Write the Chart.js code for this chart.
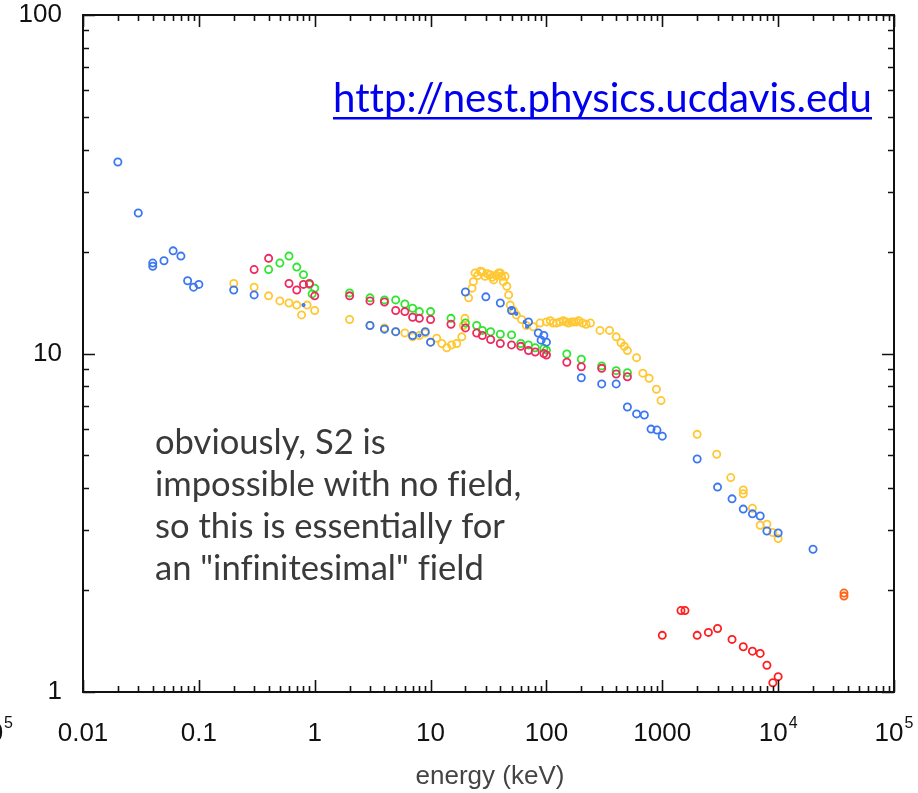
<!DOCTYPE html>
<html>
<head>
<meta charset="utf-8">
<script src="https://cdn.jsdelivr.net/npm/chart.js@4.4.0/dist/chart.umd.min.js"></script>
<style>
  html, body { margin: 0; padding: 0; background: #fff; }
  canvas { display: block; }
</style>
</head>
<body>
<canvas id="yield" width="918" height="793"></canvas>
<script>
/* S2 yield vs. recoil energy, log-log, one marker colour per data set */

// axis ticks
const xDecades = [0.01, 0.1, 1, 10, 100, 1000, 1e4, 1e5];
const xTickLabels = ['0.01', '0.1', '1', '10', '100', '1000', '10^4', '10^5'];
const yDecades = [1, 10, 100];
const yTickLabels = ['1', '10', '100'];

// blue set
const blueEnergy = [0.02, 0.03, 0.04, 0.04, 0.05, 0.06, 0.07, 0.08, 0.09, 0.1, 0.2, 0.3,
  3, 4, 5, 7, 9, 10, 20, 30, 40, 50, 70, 85, 90, 95, 100,
  200, 300, 400, 500, 600, 700, 800, 900, 1000, 2000, 3000, 4000, 5000, 6000, 7000, 8000, 10000, 20000];
const blueYield = [36.8, 26.0, 18.5, 18.1, 18.8, 20.1, 19.4, 16.4, 15.7, 16.0, 15.4, 14.9,
  12.1, 11.8, 11.6, 11.3, 11.6, 10.8, 15.2, 14.7, 14.1, 13.4, 12.4, 11.5, 10.95, 11.3, 10.8,
  8.48, 8.13, 8.13, 6.95, 6.63, 6.58, 5.98, 5.94, 5.70, 4.88, 4.03, 3.72, 3.47, 3.36, 3.31, 2.99, 2.95, 2.64];

// small blue dots
const dotEnergy = [0.8, 8, 50, 55, 65, 68];
const dotYield = [13.9, 11.3, 13.6, 13.1, 12.4, 12.0];

// crimson set
const crimsonEnergy = [0.3, 0.4, 0.6, 0.7, 0.8, 0.9, 1, 2, 3, 4, 5, 6, 7, 8, 10, 15, 20, 25, 28, 33, 40, 50,
  60, 70, 80, 95, 100, 150, 200, 300, 400, 500];
const crimsonYield = [17.7, 19.1, 16.1, 15.4, 16.0, 16.1, 14.8, 14.8, 14.3, 14.2, 13.4, 13.3, 12.8, 12.7, 12.6,
  12.2, 11.9, 11.5, 11.3, 11.0, 10.7, 10.6, 10.5, 10.2, 10.1, 10.0, 9.9, 9.42, 9.14, 9.04, 8.7, 8.54];

// green set
const greenEnergy = [0.4, 0.5, 0.6, 0.7, 0.8, 0.9, 0.95, 1, 2, 3, 4, 5, 6, 7, 8, 10, 15, 20, 25, 28, 33, 40, 50,
  60, 70, 80, 95, 100, 150, 200, 300, 400, 500];
const greenYield = [17.7, 18.5, 19.4, 18.0, 17.1, 16.0, 15.0, 15.6, 15.1, 14.6, 14.4, 14.4, 14.0, 13.6, 13.3, 13.3,
  12.7, 12.3, 12.1, 11.7, 11.6, 11.4, 11.35, 10.7, 10.6, 10.4, 10.35, 10.23, 9.97, 9.62, 9.19, 8.9, 8.78];

// gold set
const goldEnergy = [0.2, 0.3, 0.4, 0.5, 0.6, 0.7, 0.77, 0.86, 1, 2, 3, 4, 5, 6, 7, 8, 9, 10, 11.3, 12.5, 13.8,
  15.2, 16.8, 18.6, 19.2, 19.8, 21.3, 22.8, 23.4, 24.2, 25.5, 26.9, 28, 29.5, 31, 32.8, 34, 35, 37, 38.6, 40, 41,
  42.5, 44, 45.5, 47.2, 48.7, 51.9, 55, 61, 67, 77, 88, 100, 108, 114, 122, 131, 140, 147, 155, 165, 172, 181,
  190, 205, 220, 240, 290, 350, 400, 440, 470, 500, 600, 680, 770, 890, 975,
  2000, 2950, 3900, 5000, 5000, 6000, 7000, 8000, 9000, 10000];
const goldYield = [16.1, 15.7, 14.8, 14.3, 14.1, 13.9, 13.0, 13.9, 13.4, 12.6, 12.1, 11.9, 11.6, 11.5, 11.2, 11.3,
  11.5, 10.8, 11.1, 10.7, 10.4, 10.6, 10.7, 11.2, 12.1, 12.7, 14.6, 15.6, 16.3, 17.3, 17.0, 17.5, 17.4, 16.9,
  17.2, 17.1, 16.8, 16.5, 17.0, 17.3, 17.3, 16.9, 16.3, 16.9, 15.8, 14.9, 13.9, 13.4, 13.0, 12.6, 12.1, 12.0,
  12.3, 12.4, 12.5, 12.3, 12.3, 12.4, 12.5, 12.4, 12.3, 12.4, 12.4, 12.4, 12.5, 12.3, 12.2, 12.3, 11.7, 11.7,
  11.2, 10.76, 10.5, 10.2, 9.72, 8.75, 8.45, 7.84, 7.26,
  5.77, 5.04, 4.30, 3.95, 3.85, 3.49, 3.11, 3.13, 2.96, 2.84];

// red set (high energy)
const redEnergy = [1000, 1450, 1570, 2000, 2500, 3000, 4000, 5000, 6000, 7000, 8000, 9000, 10000];
const redYield = [1.47, 1.74, 1.74, 1.47, 1.50, 1.54, 1.43, 1.36, 1.32, 1.30, 1.20, 1.065, 1.11];

// orange pair
const orangeEnergy = [37000, 37000];
const orangeYield = [1.96, 1.92];

const pairs = (xs, ys) => xs.map((x, i) => ({ x, y: ys[i] }));

function ringSet(label, xs, ys, color, radius = 3.6) {
  return {
    label,
    data: pairs(xs, ys),
    borderColor: color,
    backgroundColor: 'rgba(0,0,0,0)',
    pointRadius: radius,
    pointHoverRadius: radius,
    pointBorderWidth: 1.8,
    showLine: false
  };
}

const tickFont = '26px "Liberation Sans", Arial, sans-serif';
const supFont = '16px "Liberation Sans", Arial, sans-serif';

// text helpers
function fitFont(ctx, text, family, width) {
  ctx.font = `100px ${family}`;
  const size = 100 * width / ctx.measureText(text).width;
  return `${size.toFixed(2)}px ${family}`;
}

// a zero-width non-joiner after f / t stops the font from forming fi / tt ligatures
const noLigatures = s => s.replace(/f(?=i)|t(?=t)/g, '$&\u200C');

function drawPowerLabel(ctx, label, x, y, align) {
  const [base, exp] = label.split('^');
  ctx.font = tickFont;
  const wb = ctx.measureText(base).width;
  ctx.font = supFont;
  const we = exp ? ctx.measureText(exp).width + 1 : 0;
  let x0 = x - (wb + we) / 2;
  if (align === 'right') x0 = x - wb - we;
  ctx.textAlign = 'left';
  ctx.textBaseline = 'middle';
  ctx.font = tickFont;
  ctx.fillText(base, x0, y);
  if (exp) {
    ctx.font = supFont;
    ctx.fillText(exp, x0 + wb + 1, y - 10);
  }
}

const frame = {
  id: 'frame',
  beforeDraw(chart) {
    const { ctx } = chart;
    ctx.save();
    ctx.fillStyle = '#fff';
    ctx.fillRect(0, 0, chart.width, chart.height);
    ctx.restore();
  },
  afterDatasetsDraw(chart) {
    const { ctx, chartArea: a, scales: { x, y } } = chart;
    ctx.save();
    ctx.strokeStyle = '#111';
    ctx.lineWidth = 1.6;
    ctx.beginPath();
    // x ticks, bottom and top, pointing in
    for (let i = 0; i < xDecades.length; i++) {
      const d = xDecades[i];
      const steps = i === xDecades.length - 1 ? 1 : 9;
      for (let m = 1; m <= steps; m++) {
        const px = Math.round(x.getPixelForValue(d * m)) + 0.5;
        const len = m === 1 ? 12 : 6;
        ctx.moveTo(px, a.bottom); ctx.lineTo(px, a.bottom - len);
        ctx.moveTo(px, a.top); ctx.lineTo(px, a.top + len);
      }
    }
    // y ticks, left and right
    for (let i = 0; i < yDecades.length; i++) {
      const d = yDecades[i];
      const steps = i === yDecades.length - 1 ? 1 : 9;
      for (let m = 1; m <= steps; m++) {
        const py = Math.round(y.getPixelForValue(d * m)) + 0.5;
        const len = m === 1 ? 12 : 6;
        ctx.moveTo(a.left, py); ctx.lineTo(a.left + len, py);
        ctx.moveTo(a.right, py); ctx.lineTo(a.right - len, py);
      }
    }
    ctx.stroke();

    ctx.lineWidth = 2;
    ctx.strokeRect(a.left, a.top, a.right - a.left, a.bottom - a.top);

    // tick labels
    ctx.fillStyle = '#111';
    xDecades.forEach((d, i) => drawPowerLabel(ctx, xTickLabels[i], x.getPixelForValue(d), 734));
    // clipped exponent label from the neighbouring panel at the far left
    drawPowerLabel(ctx, '10^5', 13, 734, 'right');
    yDecades.forEach((d, i) => drawPowerLabel(ctx, yTickLabels[i], 62, y.getPixelForValue(d), 'right'));

    // axis title
    ctx.fillStyle = '#444';
    ctx.font = '26px "Liberation Sans", Arial, sans-serif';
    ctx.textAlign = 'center';
    ctx.textBaseline = 'middle';
    ctx.fillText('energy (keV)', 490, 777);

    // note
    const note = ['obviously, S2 is', 'impossible with no field,', 'so this is essentially for', 'an "infinitesimal" field'];
    ctx.fillStyle = '#3a3a3a';
    ctx.font = fitFont(ctx, note[2], 'Lato, "Open Sans", sans-serif', 350);
    ctx.textAlign = 'left';
    note.forEach((line, i) => ctx.fillText(noLigatures(line), 155, 443 + i * 42));

    // link
    const url = noLigatures('http://nest.physics.ucdavis.edu');
    ctx.fillStyle = '#0000ee';
    ctx.font = fitFont(ctx, url, 'Lato, "Open Sans", sans-serif', 539);
    ctx.textBaseline = 'alphabetic';
    ctx.fillText(url, 333, 112);
    ctx.fillRect(333, 117, 539, 2.5);
    ctx.restore();
  }
};

new Chart(document.getElementById('yield'), {
  type: 'scatter',
  data: {
    datasets: [
      ringSet('dots', dotEnergy, dotYield, '#3b78f0', 1.2),
      ringSet('blue', blueEnergy, blueYield, '#3b78f0'),
      ringSet('crimson', crimsonEnergy, crimsonYield, '#f0285f'),
      ringSet('green', greenEnergy, greenYield, '#2ee62e'),
      ringSet('gold', goldEnergy, goldYield, '#ffc832'),
      ringSet('red', redEnergy, redYield, '#ff1e1e'),
      ringSet('orange', orangeEnergy, orangeYield, '#ff6414')
    ]
  },
  options: {
    responsive: false,
    devicePixelRatio: 1,
    animation: false,
    events: [],
    layout: { padding: { left: 83, top: 15, right: 24, bottom: 101 } },
    plugins: { legend: { display: false }, tooltip: { enabled: false } },
    scales: {
      x: { type: 'logarithmic', min: 0.01, max: 1e5, display: false },
      y: { type: 'logarithmic', min: 1, max: 100, display: false }
    }
  },
  plugins: [frame]
});
</script>
</body>
</html>
